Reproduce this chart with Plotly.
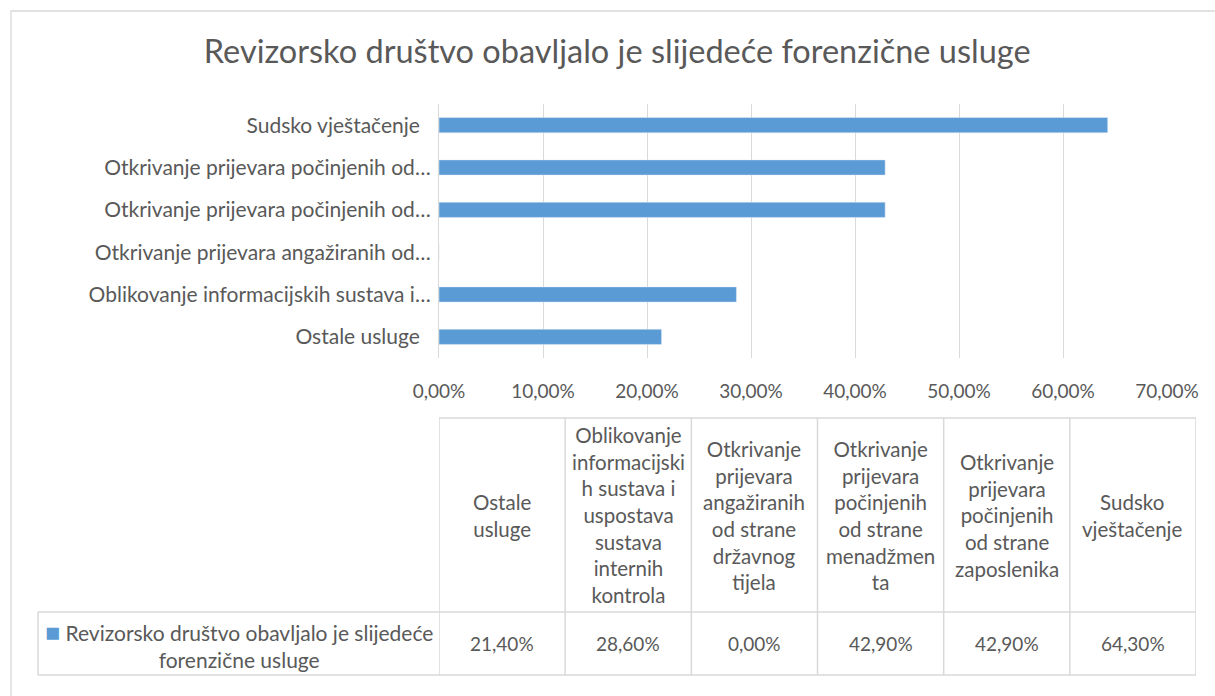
import plotly.graph_objects as go

W, H = 1215, 696
TEXT = "#595959"
GRID = "#d9d9d9"
BAR = "#5b9bd5"
FONT = "Lato"

# categories, bottom to top (same order as table columns left to right)
categories = [
    "Ostale usluge",
    "Oblikovanje informacijskih sustava i uspostava sustava internih kontrola",
    "Otkrivanje prijevara angažiranih od strane državnog tijela",
    "Otkrivanje prijevara počinjenih od strane menadžmenta",
    "Otkrivanje prijevara počinjenih od strane zaposlenika",
    "Sudsko vještačenje",
]
axis_labels = [
    "Ostale usluge\u00a0\u00a0",
    "Oblikovanje informacijskih sustava i…",
    "Otkrivanje prijevara angažiranih od…",
    "Otkrivanje prijevara počinjenih od…",
    "Otkrivanje prijevara počinjenih od…",
    "Sudsko vještačenje\u00a0\u00a0",
]
table_headers = [
    "Ostale<br>usluge",
    "Oblikovanje<br>informacijski<br>h sustava i<br>uspostava<br>sustava<br>internih<br>kontrola",
    "Otkrivanje<br>prijevara<br>angažiranih<br>od strane<br>državnog<br>tijela",
    "Otkrivanje<br>prijevara<br>počinjenih<br>od strane<br>menadžmen<br>ta",
    "Otkrivanje<br>prijevara<br>počinjenih<br>od strane<br>zaposlenika",
    "Sudsko<br>vještačenje",
]
values = [0.214, 0.286, 0.0, 0.429, 0.429, 0.643]
x_ticks = [0, 0.1, 0.2, 0.3, 0.4, 0.5, 0.6, 0.7]
series_name = "Revizorsko društvo obavljalo je slijedeće forenzične usluge"
legend_label = "Revizorsko društvo obavljalo je slijedeće<br>forenzične usluge"


def px(x):
    return x / W


def py(y):
    return 1 - y / H


fig = go.Figure()
fig.add_trace(go.Bar(
    x=values, y=categories, orientation="h",
    marker_color=BAR, name=series_name, showlegend=False,
))

# table geometry (pixels)
tab_l, tab_r = 439, 1196
leg_l = 38
tab_t, row_mid, tab_b = 418, 612, 675

# hidden axes spanning the table area, one unit per column
fig.add_trace(go.Scatter(
    x=list(range(len(categories))), y=[None] * len(categories),
    xaxis="x2", yaxis="y2", showlegend=False, hoverinfo="skip",
))

fig.update_layout(
    width=W, height=H,
    margin=dict(l=0, r=0, t=0, b=0, autoexpand=False),
    paper_bgcolor="white", plot_bgcolor="white",
    separators=",.",
    font=dict(family=FONT, size=21, color=TEXT),
    bargap=0.64,
    title=dict(
        text="Revizorsko društvo obavljalo je slijedeće forenzične usluge",
        x=0.508, xanchor="center", y=py(52), yanchor="middle",
        font=dict(size=32.5, color=TEXT, family=FONT),
    ),
    xaxis=dict(
        domain=[px(439), px(1167)], range=[0, 0.7],
        tickvals=x_ticks, tickformat=".2%", tickfont=dict(size=19),
        showgrid=True, gridcolor=GRID, gridwidth=1.3,
        zeroline=False, showline=False, ticklabelstandoff=20,
        fixedrange=True,
    ),
    yaxis=dict(
        domain=[py(358), py(104)],
        categoryorder="array", categoryarray=categories,
        tickvals=categories, ticktext=axis_labels,
        showgrid=False, zeroline=False,
        showline=True, linecolor=GRID, linewidth=1.3,
        ticklabelstandoff=3, fixedrange=True,
    ),
    xaxis2=dict(
        domain=[px(tab_l), px(tab_r)], range=[-0.5, len(categories) - 0.5],
        visible=False, anchor="y2", fixedrange=True,
    ),
    yaxis2=dict(
        domain=[py(tab_b), py(tab_t)], range=[0, 1],
        visible=False, anchor="x2", fixedrange=True,
    ),
)

# outer chart border
fig.add_shape(type="rect", xref="paper", yref="paper",
              x0=px(11), x1=px(1225), y0=py(710), y1=py(11),
              line=dict(color=GRID, width=1.3), layer="below")

line_style = dict(color=GRID, width=1.5)
# horizontal table lines
fig.add_shape(type="line", xref="paper", yref="paper",
              x0=px(tab_l), x1=px(tab_r), y0=py(tab_t), y1=py(tab_t), line=line_style)
fig.add_shape(type="line", xref="paper", yref="paper",
              x0=px(leg_l), x1=px(tab_r), y0=py(row_mid), y1=py(row_mid), line=line_style)
fig.add_shape(type="line", xref="paper", yref="paper",
              x0=px(leg_l), x1=px(tab_r), y0=py(tab_b), y1=py(tab_b), line=line_style)
fig.add_shape(type="line", xref="paper", yref="paper",
              x0=px(leg_l), x1=px(leg_l), y0=py(row_mid), y1=py(tab_b), line=line_style)
# column borders
for i in range(len(categories) + 1):
    fig.add_shape(type="line", xref="x2", yref="paper",
                  x0=i - 0.5, x1=i - 0.5, y0=py(tab_t), y1=py(tab_b), line=line_style)

# table text
for i, (hdr, v) in enumerate(zip(table_headers, values)):
    fig.add_annotation(text=hdr, xref="x2", yref="paper", x=i,
                       y=py((tab_t + row_mid) / 2), showarrow=False,
                       xanchor="center", yanchor="middle", align="center",
                       font=dict(size=20.5, color=TEXT, family=FONT))
    fig.add_annotation(text=f"{v * 100:.2f}%".replace(".", ","), xref="x2", yref="paper", x=i,
                       y=py((row_mid + tab_b) / 2), showarrow=False,
                       xanchor="center", yanchor="middle",
                       font=dict(size=19, color=TEXT, family=FONT))

fig.add_annotation(
    text=f"<span style='color:{BAR};font-size:25px'>■</span>\u00a0" + legend_label,
    xref="paper", yref="paper", x=px((leg_l + tab_l) / 2), y=py((row_mid + tab_b) / 2),
    showarrow=False, xanchor="center", yanchor="middle", align="center",
    font=dict(size=21, color=TEXT, family=FONT),
)

fig.write_html("out.html", config={"displayModeBar": False},
               post_script="document.body.style.margin='0';")
